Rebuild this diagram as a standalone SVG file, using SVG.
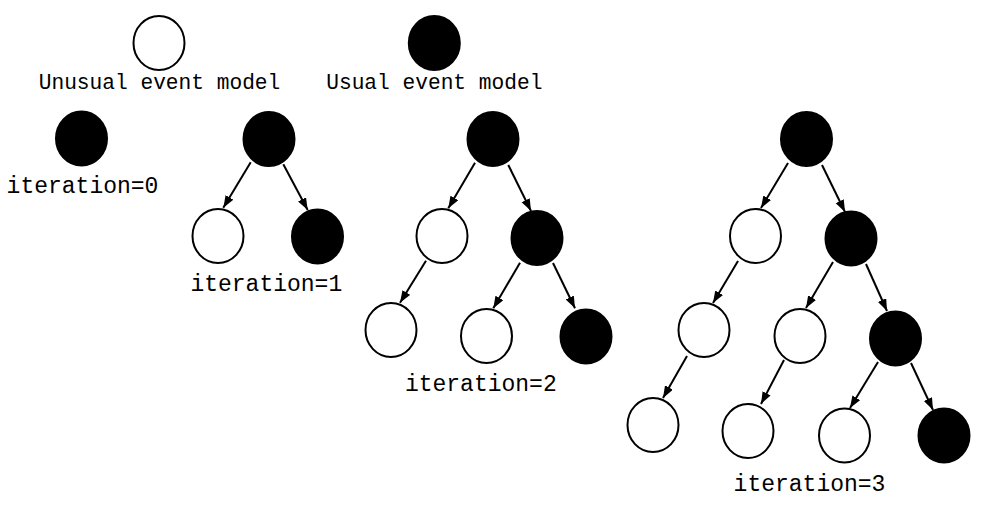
<svg xmlns="http://www.w3.org/2000/svg" width="984" height="513" viewBox="0 0 984 513">
<style>
  .w { fill: #ffffff; stroke: #000000; stroke-width: 2; }
  .b { fill: #000000; stroke: #000000; stroke-width: 2; }
  .e { stroke: #000000; stroke-width: 2; fill: none; marker-end: url(#arr); }
  .lg { font-family: "Liberation Mono", "Courier New", monospace; font-size: 21.2px; fill: #000000; text-anchor: middle; }
  .it { font-family: "Liberation Mono", "Courier New", monospace; font-size: 23px; fill: #000000; text-anchor: middle; }
</style>
<defs>
  <marker id="arr" markerUnits="userSpaceOnUse" markerWidth="13" markerHeight="10" refX="12" refY="4.5" orient="auto">
    <path d="M0,0 L12,4.5 L0,9 z" fill="#000000"/>
  </marker>
</defs>
<rect width="984" height="513" fill="#ffffff"/>

<g id="legend">
  <g id="legend-unusual">
    <ellipse class="w" cx="159" cy="43" rx="25.5" ry="27"/>
    <text class="lg" x="159.5" y="89">Unusual event model</text>
  </g>
  <g id="legend-usual">
    <ellipse class="b" cx="434.3" cy="43" rx="25.5" ry="27"/>
    <text class="lg" x="434.3" y="89">Usual event model</text>
  </g>
</g>

<g id="connectors">
  <line class="e" x1="250.7" y1="162.3" x2="223.3" y2="207.7"/>
  <line class="e" x1="283.3" y1="164.3" x2="307.7" y2="210"/>
  <line class="e" x1="475" y1="162.7" x2="448.3" y2="208.3"/>
  <line class="e" x1="508.3" y1="165" x2="531" y2="211"/>
  <line class="e" x1="426" y1="260.7" x2="400" y2="302.7"/>
  <line class="e" x1="520" y1="262.7" x2="493.3" y2="308.3"/>
  <line class="e" x1="553" y1="263" x2="575" y2="308.3"/>
  <line class="e" x1="788" y1="163" x2="761" y2="208"/>
  <line class="e" x1="822" y1="165" x2="845" y2="212"/>
  <line class="e" x1="738" y1="261" x2="713" y2="303"/>
  <line class="e" x1="833" y1="262" x2="806" y2="308"/>
  <line class="e" x1="866" y1="264" x2="887" y2="311"/>
  <line class="e" x1="687" y1="356" x2="663" y2="398"/>
  <line class="e" x1="784" y1="360" x2="761" y2="404"/>
  <line class="e" x1="878" y1="362" x2="850" y2="408"/>
  <line class="e" x1="911" y1="363" x2="933" y2="410"/>
</g>

<g id="iter0">
  <ellipse id="n0" class="b" cx="81.5" cy="138.5" rx="25.5" ry="27"/>
  <text class="it" x="82.5" y="193.3">iteration=0</text>
</g>

<g id="iter1">
  <ellipse id="t1-root" class="b" cx="269" cy="139" rx="25.5" ry="27"/>
  <ellipse id="t1-a" class="w" cx="218" cy="236" rx="25.5" ry="27"/>
  <ellipse id="t1-b" class="b" cx="317.5" cy="236.5" rx="25.5" ry="27"/>
  <text class="it" x="266.3" y="291">iteration=1</text>
</g>

<g id="iter2">
  <ellipse id="t2-root" class="b" cx="493" cy="139" rx="25.5" ry="27"/>
  <ellipse id="t2-a" class="w" cx="442" cy="236" rx="25.5" ry="27"/>
  <ellipse id="t2-b" class="b" cx="537" cy="238" rx="25.5" ry="27"/>
  <ellipse id="t2-c" class="w" cx="391" cy="330" rx="25.5" ry="27"/>
  <ellipse id="t2-d" class="w" cx="486.5" cy="336" rx="25.5" ry="27"/>
  <ellipse id="t2-e" class="b" cx="586" cy="336.5" rx="25.5" ry="27"/>
  <text class="it" x="480.8" y="391">iteration=2</text>
</g>

<g id="iter3">
  <ellipse id="t3-root" class="b" cx="806.5" cy="139" rx="25.5" ry="27"/>
  <ellipse id="t3-a" class="w" cx="755.5" cy="236" rx="25.5" ry="27"/>
  <ellipse id="t3-b" class="b" cx="851" cy="238.5" rx="25.5" ry="27"/>
  <ellipse id="t3-c" class="w" cx="704" cy="330" rx="25.5" ry="27"/>
  <ellipse id="t3-d" class="w" cx="800" cy="336" rx="25.5" ry="27"/>
  <ellipse id="t3-e" class="b" cx="895.5" cy="338.5" rx="25.5" ry="27"/>
  <ellipse id="t3-f" class="w" cx="653" cy="425" rx="25.5" ry="27"/>
  <ellipse id="t3-g" class="w" cx="748" cy="431" rx="25.5" ry="27"/>
  <ellipse id="t3-h" class="w" cx="844.5" cy="435.5" rx="25.5" ry="27"/>
  <ellipse id="t3-i" class="b" cx="944" cy="435.5" rx="25.5" ry="27"/>
  <text class="it" x="809.5" y="491">iteration=3</text>
</g>
</svg>
